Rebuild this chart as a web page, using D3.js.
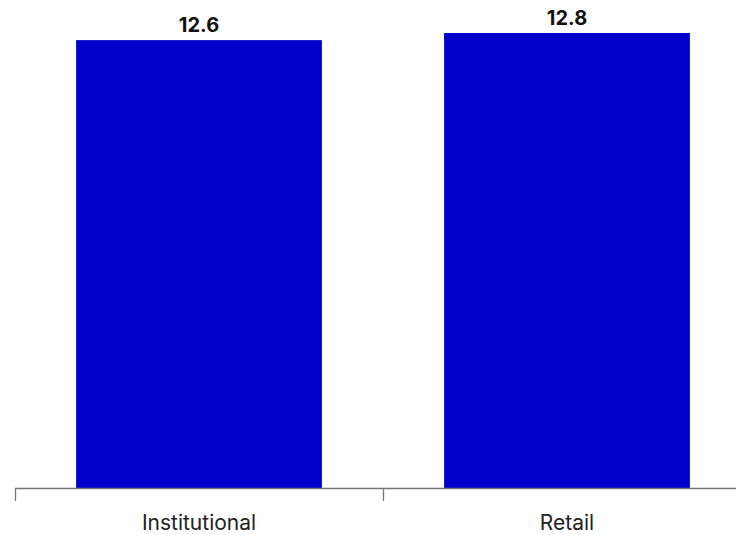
<!DOCTYPE html>
<html>
    <head>
        <meta charset="utf-8">
        <title>Bar chart</title>
        <style>
            body { margin: 0; background: #fff; }
            text { font-family: Inter, "Noto Sans", sans-serif; }
        </style>
    </head>
    <body>
        <script src="https://d3js.org/d3.v7.min.js"></script>
        <script>
            // data
            var categories = ["Institutional", "Retail"];
            var values = [12.6, 12.8];

            var width = 736;
            var height = 535;
            var baseY = 488;

            var svg = d3.select("body")
                .append("svg")
                .attr("width", width)
                .attr("height", height);

            // x scale: bands start at 15, each step 368
            var xScale = d3.scaleBand()
                .domain(categories)
                .range([15, 751])
                .paddingInner(0.332)
                .paddingOuter(0.166);

            // y scale
            var yScale = d3.scaleLinear()
                .domain([0, 12.8])
                .range([baseY, 33]);

            // bars
            svg.append("g")
                .selectAll("rect")
                .data(values)
                .enter()
                .append("rect")
                .attr("x", function(d, i) { return xScale(categories[i]); })
                .attr("y", function(d) { return yScale(d); })
                .attr("width", xScale.bandwidth())
                .attr("height", function(d) { return baseY - yScale(d); })
                .attr("fill", "#0000cc");

            // value labels
            svg.append("g")
                .selectAll("text")
                .data(values)
                .enter()
                .append("text")
                .attr("x", function(d, i) { return xScale(categories[i]) + xScale.bandwidth() / 2; })
                .attr("y", function(d) { return yScale(d) - 8; })
                .attr("text-anchor", "middle")
                .attr("font-size", "20px")
                .attr("font-weight", "bold")
                .attr("fill", "#111")
                .text(function(d) { return d.toFixed(1); });

            // x axis
            var xAxis = d3.axisBottom(xScale)
                .tickSize(0)
                .tickPadding(27);

            var x = svg.append("g")
                .attr("transform", "translate(0," + baseY + ")")
                .call(xAxis);
            x.select(".domain").remove();
            x.selectAll("text")
                .attr("font-size", "21px")
                .attr("font-weight", "400")
                .attr("font-family", "Inter, 'Noto Sans', sans-serif")
                .attr("fill", "#222");

            // axis line and ticks at category boundaries
            var step = xScale.step();
            x.append("line")
                .attr("x1", xScale.range()[0])
                .attr("x2", xScale.range()[1])
                .attr("y1", 0.5)
                .attr("y2", 0.5)
                .attr("stroke", "#777")
                .attr("stroke-width", 1.3);
            x.selectAll(".bound")
                .data(categories)
                .enter()
                .append("line")
                .attr("class", "bound")
                .attr("x1", function(d) { return Math.round(xScale(d) - step * xScale.paddingOuter()) + 0.5; })
                .attr("x2", function(d) { return Math.round(xScale(d) - step * xScale.paddingOuter()) + 0.5; })
                .attr("y1", 0)
                .attr("y2", 13)
                .attr("stroke", "#777")
                .attr("stroke-width", 1.3);
        </script>
    </body>
</html>
